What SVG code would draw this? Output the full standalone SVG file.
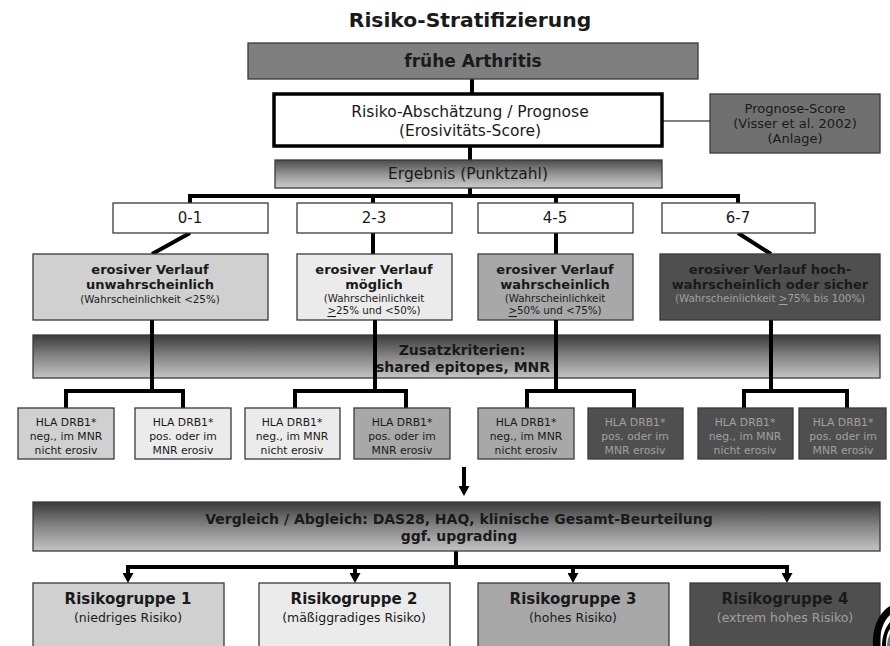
<svg xmlns="http://www.w3.org/2000/svg" width="890" height="646" viewBox="0 0 890 646">
  <defs>
    <linearGradient id="bar" x1="0" y1="0" x2="0" y2="1">
      <stop offset="0" stop-color="#3a3a3a"/>
      <stop offset="0.5" stop-color="#858585"/>
      <stop offset="1" stop-color="#c4c4c4"/>
    </linearGradient>
    <linearGradient id="bar2" x1="0" y1="0" x2="0" y2="1">
      <stop offset="0" stop-color="#4c4c4c"/>
      <stop offset="0.55" stop-color="#9a9a9a"/>
      <stop offset="1" stop-color="#cdcdcd"/>
    </linearGradient>
    <marker id="ah" markerUnits="userSpaceOnUse" markerWidth="10" markerHeight="11" viewBox="0 0 10 11" refX="0" refY="5.5" orient="auto">
      <path d="M0,0 L10,5.5 L0,11 z" fill="#000"/>
    </marker>
  </defs>
  <style>
    text { font-family: "DejaVu Sans", Verdana, sans-serif; fill: #1a1a1a; text-anchor: middle; dominant-baseline: central; }
    .b { font-weight: bold; }
    .box { stroke: #3a3a3a; stroke-width: 1.3; }
    .w { fill: #ffffff; }
    .g1 { fill: #d0d0d0; }
    .g2 { fill: #ebebeb; }
    .g3 { fill: #a8a8a8; }
    .g4 { fill: #4f4f4f; }
    .conn { stroke: #000; stroke-width: 4; fill: none; stroke-linejoin: miter; }
    .thin { stroke: #000; stroke-width: 1; fill: none; }
    .t15 { font-size: 15px; }
    .t155 { font-size: 15.5px; }
    .t13 { font-size: 13px; }
    .t10 { font-size: 10.3px; }
    .hla { font-size: 10.8px; }
    .lt { fill: #a0a0a0; }
    .u { text-decoration: underline; }
  </style>

  <!-- title -->
  <text id="title" class="b" x="470" y="20" font-size="20.3">Risiko-Stratifizierung</text>

  <!-- connectors -->
  <g id="connectors">
    <path class="conn" d="M472,79 V93"/>
    <path class="conn" d="M470,147 V160"/>
    <path class="conn" d="M470,188 V196"/>
    <path class="conn" d="M190,204 V196 H738 V204 M373,196 V204 M556,196 V204"/>
    <path class="thin" d="M663,121 H710"/>
    <path class="conn" d="M190,233 L152,254"/>
    <path class="conn" d="M373,233 V254"/>
    <path class="conn" d="M556,233 V254"/>
    <path class="conn" d="M738,233 L771,254"/>
  </g>

  <!-- top nodes -->
  <g id="fruehe-arthritis">
    <rect class="box" x="248" y="43" width="450" height="36" fill="#7f7f7f"/>
    <text class="b" x="473" y="61" font-size="17">frühe Arthritis</text>
  </g>
  <g id="risiko-abschaetzung">
    <rect x="274" y="94" width="388" height="52" fill="#fff" stroke="#000" stroke-width="3.5"/>
    <text class="t155" x="470" y="112">Risiko-Abschätzung / Prognose</text>
    <text class="t155" x="470" y="131">(Erosivitäts-Score)</text>
  </g>
  <g id="prognose-score">
    <rect class="box" x="710" y="94" width="170" height="59" fill="#707070"/>
    <text class="t13" x="795" y="108">Prognose-Score</text>
    <text class="t13" x="795" y="123">(Visser et al. 2002)</text>
    <text class="t13" x="795" y="138">(Anlage)</text>
  </g>
  <g id="ergebnis">
    <rect class="box" x="275" y="160" width="387" height="28" fill="url(#bar2)"/>
    <text class="t155" x="468" y="174">Ergebnis (Punktzahl)</text>
  </g>

  <!-- score ranges -->
  <g id="score-0-1">
    <rect class="box w" x="113" y="203" width="155" height="30"/>
    <text class="t15" x="190" y="218">0-1</text>
  </g>
  <g id="score-2-3">
    <rect class="box w" x="297" y="203" width="155" height="30"/>
    <text class="t15" x="374" y="218">2-3</text>
  </g>
  <g id="score-4-5">
    <rect class="box w" x="478" y="203" width="155" height="30"/>
    <text class="t15" x="555" y="218">4-5</text>
  </g>
  <g id="score-6-7">
    <rect class="box w" x="662" y="203" width="153" height="30"/>
    <text class="t15" x="738" y="218">6-7</text>
  </g>

  <!-- erosion probability -->
  <g id="verlauf-unwahrscheinlich">
    <rect class="box g1" x="33" y="254" width="235" height="66"/>
    <text class="b t13" x="150" y="269">erosiver Verlauf</text>
    <text class="b t13" x="150" y="284">unwahrscheinlich</text>
    <text class="t10" x="150" y="299">(Wahrscheinlichkeit  &lt;25%)</text>
  </g>
  <g id="verlauf-moeglich">
    <rect class="box g2" x="297" y="254" width="155" height="66"/>
    <text class="b t13" x="374" y="269">erosiver Verlauf</text>
    <text class="b t13" x="374" y="284">möglich</text>
    <text class="t10" x="374" y="298">(Wahrscheinlichkeit</text>
    <text class="t10" x="374" y="310"><tspan class="u">&gt;</tspan>25% und &lt;50%)</text>
  </g>
  <g id="verlauf-wahrscheinlich">
    <rect class="box g3" x="478" y="254" width="155" height="66"/>
    <text class="b t13" x="555" y="269">erosiver Verlauf</text>
    <text class="b t13" x="555" y="284">wahrscheinlich</text>
    <text class="t10" x="555" y="298">(Wahrscheinlichkeit</text>
    <text class="t10" x="555" y="310"><tspan class="u">&gt;</tspan>50% und &lt;75%)</text>
  </g>
  <g id="verlauf-sicher">
    <rect class="box g4" x="660" y="254" width="220" height="66"/>
    <text class="b t13" x="770" y="269">erosiver Verlauf hoch-</text>
    <text class="b t13" x="770" y="284">wahrscheinlich oder sicher</text>
    <text class="t10 lt" x="770" y="298">(Wahrscheinlichkeit <tspan class="u">&gt;</tspan>75% bis 100%)</text>
  </g>

  <!-- additional criteria bar -->
  <g id="zusatzkriterien">
    <rect class="box" x="33" y="335" width="847" height="43" fill="url(#bar)"/>
    <text class="b" x="462" y="350" font-size="14">Zusatzkriterien:</text>
    <text class="b" x="463" y="367" font-size="14">shared epitopes, MNR</text>
  </g>

  <!-- branches to HLA boxes (drawn over the bar) -->
  <g id="connectors-hla">
    <path class="conn" d="M152,320 V391 M66,408 V391 H183 V408"/>
    <path class="conn" d="M375,320 V391 M295,408 V391 H406 V408"/>
    <path class="conn" d="M556,320 V391 M527,408 V391 H634 V408"/>
    <path class="conn" d="M771,320 V391 M744,408 V391 H847 V408"/>
  </g>

  <!-- HLA boxes -->
  <g id="hla-1">
    <rect class="box g1" x="18" y="408" width="96" height="51"/>
    <text class="hla" x="66" y="422">HLA DRB1*</text>
    <text class="hla" x="66" y="436">neg., im MNR</text>
    <text class="hla" x="66" y="450">nicht erosiv</text>
  </g>
  <g id="hla-2">
    <rect class="box g2" x="135" y="408" width="96" height="51"/>
    <text class="hla" x="183" y="422">HLA DRB1*</text>
    <text class="hla" x="183" y="436">pos. oder  im</text>
    <text class="hla" x="183" y="450">MNR erosiv</text>
  </g>
  <g id="hla-3">
    <rect class="box g2" x="245" y="408" width="95" height="51"/>
    <text class="hla" x="292" y="422">HLA DRB1*</text>
    <text class="hla" x="292" y="436">neg., im MNR</text>
    <text class="hla" x="292" y="450">nicht erosiv</text>
  </g>
  <g id="hla-4">
    <rect class="box g3" x="354" y="408" width="96" height="51"/>
    <text class="hla" x="402" y="422">HLA DRB1*</text>
    <text class="hla" x="402" y="436">pos. oder  im</text>
    <text class="hla" x="402" y="450">MNR erosiv</text>
  </g>
  <g id="hla-5">
    <rect class="box g3" x="478" y="408" width="96" height="51"/>
    <text class="hla" x="526" y="422">HLA DRB1*</text>
    <text class="hla" x="526" y="436">neg., im MNR</text>
    <text class="hla" x="526" y="450">nicht erosiv</text>
  </g>
  <g id="hla-6">
    <rect class="box g4" x="588" y="408" width="95" height="51"/>
    <text class="hla lt" x="635" y="422">HLA DRB1*</text>
    <text class="hla lt" x="635" y="436">pos. oder  im</text>
    <text class="hla lt" x="635" y="450">MNR erosiv</text>
  </g>
  <g id="hla-7">
    <rect class="box g4" x="698" y="408" width="95" height="51"/>
    <text class="hla lt" x="745" y="422">HLA DRB1*</text>
    <text class="hla lt" x="745" y="436">neg., im MNR</text>
    <text class="hla lt" x="745" y="450">nicht erosiv</text>
  </g>
  <g id="hla-8">
    <rect class="box g4" x="799" y="408" width="87" height="51"/>
    <text class="hla lt" x="843" y="422">HLA DRB1*</text>
    <text class="hla lt" x="843" y="436">pos. oder  im</text>
    <text class="hla lt" x="843" y="450">MNR erosiv</text>
  </g>

  <!-- lower connectors -->
  <g id="connectors-lower">
    <path class="conn" d="M464,467 V486" marker-end="url(#ah)"/>
    <path class="conn" d="M456,551 V567 M126,567 H789"/>
    <path class="conn" d="M128,565 V573" marker-end="url(#ah)"/>
    <path class="conn" d="M355,565 V573" marker-end="url(#ah)"/>
    <path class="conn" d="M573,565 V573" marker-end="url(#ah)"/>
    <path class="conn" d="M787,565 V573" marker-end="url(#ah)"/>
  </g>

  <!-- comparison bar -->
  <g id="vergleich">
    <rect class="box" x="33" y="502" width="847" height="49" fill="url(#bar)"/>
    <text class="b" x="459" y="519" font-size="14">Vergleich / Abgleich: DAS28, HAQ, klinische Gesamt-Beurteilung</text>
    <text class="b" x="459" y="536" font-size="14">ggf. upgrading</text>
  </g>

  <!-- risk groups -->
  <g id="risikogruppe-1">
    <rect class="box g1" x="33" y="583" width="191" height="70"/>
    <text class="b t15" x="128" y="599">Risikogruppe 1</text>
    <text x="128" y="617" font-size="12.5">(niedriges Risiko)</text>
  </g>
  <g id="risikogruppe-2">
    <rect class="box g2" x="259" y="583" width="191" height="70"/>
    <text class="b t15" x="354" y="599">Risikogruppe 2</text>
    <text x="354" y="617" font-size="12.5">(mäßiggradiges Risiko)</text>
  </g>
  <g id="risikogruppe-3">
    <rect class="box g3" x="478" y="583" width="191" height="70"/>
    <text class="b t15" x="573" y="599">Risikogruppe 3</text>
    <text x="573" y="617" font-size="12.5">(hohes Risiko)</text>
  </g>
  <g id="risikogruppe-4">
    <rect class="box g4" x="690" y="583" width="190" height="70"/>
    <text class="b t15" x="785" y="599">Risikogruppe 4</text>
    <text class="lt" x="785" y="617" font-size="12.5">(extrem hohes Risiko)</text>
  </g>

  <!-- partial emblem at the lower right edge -->
  <g id="emblem">
    <path d="M890,606 C880,612 872,626 873,646 L880,646 C879,632 884,620 890,615 Z" fill="#000"/>
    <path d="M890,622 C885,628 882,637 882,646 L886,646 C886,639 887,633 890,629 Z" fill="#000"/>
    <path d="M890,634 C888,638 887,642 887,646 L890,646 Z" fill="#777"/>
  </g>
</svg>
